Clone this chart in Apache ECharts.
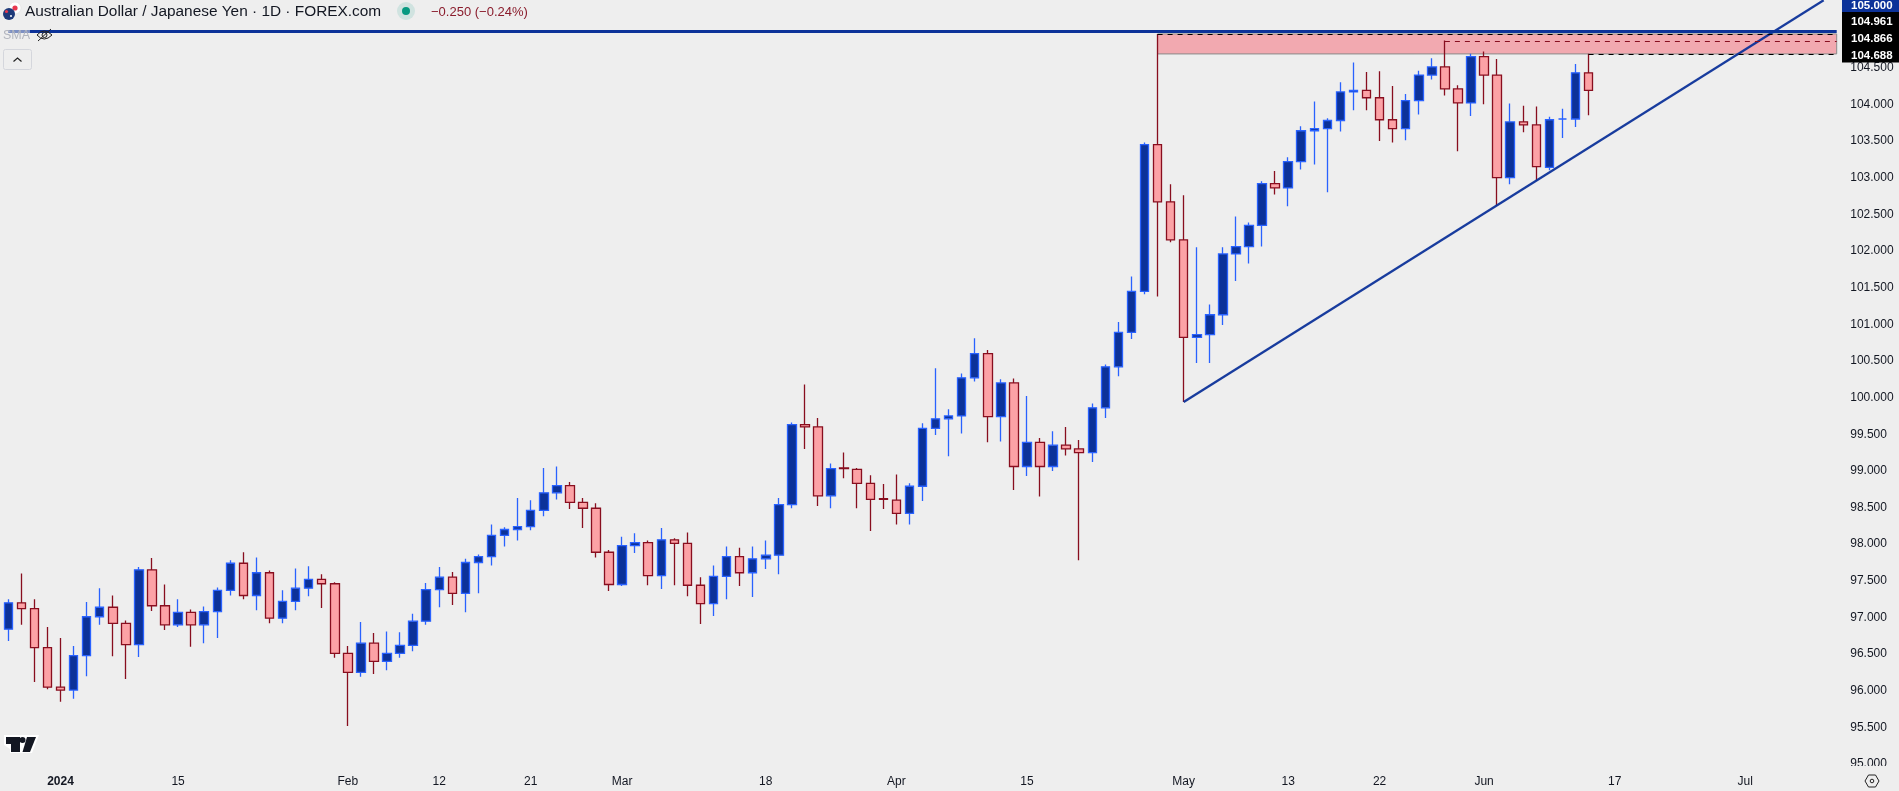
<!DOCTYPE html>
<html><head><meta charset="utf-8">
<style>html,body{margin:0;padding:0;background:#eeeeee;overflow:hidden}#c{width:1899px;height:791px}</style>
<script src="https://cdn.jsdelivr.net/npm/echarts@6/dist/echarts.min.js"></script>
</head><body><div id="c"></div>
<script>
const opens=[96.84,97.20,97.12,96.59,96.05,96.01,96.48,97.01,97.14,96.92,
96.63,97.65,97.16,96.90,97.07,96.90,97.08,97.37,97.74,97.30,
97.61,96.99,97.22,97.40,97.52,97.46,96.51,96.25,96.65,96.40,
96.51,96.62,96.95,97.38,97.55,97.33,97.75,97.83,98.12,98.20,
98.24,98.46,98.70,98.80,98.57,98.49,97.89,97.45,97.98,98.02,
97.57,98.06,98.01,97.44,97.19,97.56,97.83,97.61,97.80,97.85,
98.54,99.63,99.60,98.66,99.04,99.02,98.83,98.62,98.60,98.42,
98.79,99.58,99.71,99.75,100.27,100.60,99.74,100.20,99.06,99.39,
99.06,99.35,99.30,99.25,99.86,100.42,100.89,101.45,103.45,102.67,
102.15,100.82,100.86,101.13,101.96,102.06,102.35,102.92,102.86,103.22,
103.64,103.67,103.78,104.17,104.19,104.09,103.79,103.67,104.05,104.40,
104.51,104.21,104.02,104.65,104.40,103.00,103.76,103.72,103.14,103.80,
103.80,104.43];
const closes=[97.20,97.12,96.59,96.05,96.01,96.48,97.01,97.14,96.92,96.63,
97.65,97.16,96.90,97.07,96.90,97.08,97.37,97.74,97.30,97.61,
96.99,97.22,97.40,97.52,97.46,96.51,96.25,96.65,96.40,96.51,
96.62,96.95,97.38,97.55,97.33,97.75,97.83,98.12,98.20,98.24,
98.46,98.70,98.80,98.57,98.49,97.89,97.45,97.98,98.02,97.57,
98.06,98.01,97.44,97.19,97.56,97.83,97.61,97.80,97.85,98.54,
99.63,99.60,98.66,99.03,99.03,98.83,98.61,98.61,98.42,98.79,
99.58,99.71,99.75,100.27,100.60,99.74,100.20,99.06,99.39,99.06,
99.35,99.30,99.25,99.86,100.42,100.89,101.45,103.45,102.67,102.15,
100.82,100.86,101.13,101.96,102.06,102.35,102.92,102.86,103.22,103.64,
103.67,103.78,104.17,104.19,104.09,103.79,103.67,104.05,104.40,104.51,
104.21,104.02,104.65,104.40,103.00,103.76,103.72,103.15,103.79,103.80,
104.43,104.19];
const highs=[97.25,97.60,97.25,96.87,96.72,96.61,97.21,97.40,97.30,96.96,
97.69,97.81,97.45,97.25,97.11,97.15,97.41,97.78,97.89,97.82,
97.64,97.37,97.67,97.70,97.59,97.48,96.61,96.94,96.79,96.81,
96.80,97.05,97.47,97.69,97.62,97.80,97.86,98.27,98.23,98.63,
98.60,99.04,99.06,98.85,98.63,98.56,97.92,98.10,98.15,98.05,
98.22,98.08,98.16,97.55,97.71,97.97,97.95,97.97,98.05,98.63,
99.66,100.18,99.72,99.10,99.25,99.04,98.94,98.82,98.95,98.83,
99.65,100.40,99.84,100.33,100.81,100.65,100.25,100.26,100.02,99.45,
99.54,99.60,99.42,99.92,100.45,101.03,101.65,103.48,104.96,102.91,
102.76,102.05,101.27,102.05,102.47,102.39,102.95,103.09,103.28,103.70,
104.04,103.81,104.30,104.57,104.44,104.45,104.25,104.14,104.46,104.63,
104.87,104.26,104.69,104.72,104.62,104.01,103.98,103.97,103.83,103.94,
104.55,104.69];
const lows=[96.68,96.90,96.12,96.02,95.85,95.89,96.20,96.90,96.47,96.16,
96.46,97.09,96.83,96.87,96.60,96.65,96.72,97.30,97.25,97.10,
96.92,96.92,97.10,97.29,97.13,96.45,95.52,96.19,96.23,96.28,
96.45,96.54,96.90,97.14,97.17,97.07,97.33,97.71,97.97,98.05,
98.19,98.38,98.61,98.48,98.22,97.82,97.36,97.43,97.88,97.44,
97.39,97.44,97.29,96.91,97.02,97.25,97.43,97.28,97.66,97.59,
98.49,99.30,98.52,98.49,98.90,98.49,98.18,98.48,98.27,98.27,
98.59,99.49,99.20,99.51,100.22,99.39,99.40,98.74,98.93,98.65,
99.00,99.21,97.78,99.12,99.72,100.29,100.80,101.41,101.38,102.12,
99.94,100.47,100.47,100.99,101.59,101.83,102.06,102.77,102.61,103.11,
103.18,102.80,103.63,103.92,103.92,103.50,103.48,103.51,103.86,104.34,
104.12,103.36,103.84,104.00,102.62,102.91,103.62,102.96,103.10,103.54,
103.69,103.85];
// Trading-day index of each labelled date on the time axis
const tickIndex=[4,13,26,33,40,47,58,68,78,90,98,105,113,123,133];
const tickText=['2024','15','Feb','12','21','Mar','18','Apr','15','May','13','22','Jun','17','Jul'];
const categoryCount=141;
const categories=Array.from({length:categoryCount},(_,i)=>{const k=tickIndex.indexOf(i);return k>=0?tickText[k]:'d'+i;});

const resistance=105.0, zoneTop=104.961, zoneMid=104.866, zoneBottom=104.688;
const zoneStart=88, midStart=110, bottomStart=121, lastIdx=140;
const trendFrom=[90,99.94], trendTo=[139,105.42];
const priceTags=['105.000','104.961','104.866','104.688'];
const titleText='Australian Dollar / Japanese Yen · 1D · FOREX.com';
const changeText='−0.250 (−0.24%)';

const BG='#eeeeee',BLUE='#0c3299',BLUEB='#2962ff',PINK='#fca2a6',RED='#880e1f',INK='#131722';
const FONT='"Liberation Sans",Arial,sans-serif';
const chart=echarts.init(document.getElementById('c'));
const G=[];
function txt(x,y,t,fill,size,z,extra){G.push({type:'text',z:z||20,silent:true,style:Object.assign({x,y,text:t,fill,font:size+'px '+FONT,textVerticalAlign:'middle'},extra||{})});}
const poly=(pts,fill,z)=>G.push({type:'polygon',z:z||20,silent:true,shape:{points:pts},style:{fill}});
const pline=(pts,stroke,w,z)=>G.push({type:'polyline',z:z||20,silent:true,shape:{points:pts},style:{fill:'none',stroke,lineWidth:w}});
// bottom pane cover (clips the 95.000 axis label)
G.push({type:'rect',z:3,silent:true,shape:{x:0,y:766,width:1899,height:25},style:{fill:BG}});
// legend fade over line
G.push({type:'rect',z:15,silent:true,shape:{x:0,y:28,width:30,height:16},style:{fill:'rgba(238,238,238,0.5)'}});
// flag
G.push({type:'circle',z:20,silent:true,shape:{cx:15,cy:8,r:6},style:{fill:'#fff',stroke:'#dddddd',lineWidth:.5}});
G.push({type:'circle',z:20,silent:true,shape:{cx:15,cy:8,r:2.6},style:{fill:'#e8384f'}});
G.push({type:'circle',z:21,silent:true,shape:{cx:9,cy:14,r:6},style:{fill:'#1f3a7a'}});
G.push({type:'circle',z:21,silent:true,shape:{cx:6.5,cy:11.5,r:1.6},style:{fill:'#e8384f'}});
G.push({type:'circle',z:21,silent:true,shape:{cx:11,cy:16,r:1},style:{fill:'#fff'}});
txt(25,12,titleText,INK,15.4);
G.push({type:'circle',z:20,silent:true,shape:{cx:406,cy:11,r:9},style:{fill:'rgba(8,153,129,0.13)'}});
G.push({type:'circle',z:21,silent:true,shape:{cx:406,cy:11,r:4},style:{fill:'#089981'}});
txt(431,12,changeText,'#8a1c2c',13);
txt(3,36,'SMA','#b2b5be',12.5);
// eye-off icon
G.push({type:'bezierCurve',z:20,silent:true,shape:{x1:37,y1:35,x2:52,y2:35,cpx1:44,cpy1:27},style:{fill:'none',stroke:'#222',lineWidth:1}});
G.push({type:'bezierCurve',z:20,silent:true,shape:{x1:37,y1:35,x2:52,y2:35,cpx1:44,cpy1:43},style:{fill:'none',stroke:'#222',lineWidth:1}});
G.push({type:'circle',z:20,silent:true,shape:{cx:44.5,cy:35,r:2.5},style:{fill:'none',stroke:'#222',lineWidth:1}});
pline([[38,41],[51,29]],'#222',1);
G.push({type:'rect',z:20,silent:true,shape:{x:3.5,y:49.5,width:28,height:20,r:2},style:{fill:'none',stroke:'#d4d6dc',lineWidth:1}});
pline([[13.5,61.5],[17.5,58],[21.5,61.5]],'#222',1.2);
// TV logo
poly([[4,735],[39,735],[32,753],[10,753],[10,749],[4,745]],'#fff');
poly([[6,737],[20,737],[20,752],[11,752],[11,744],[6,744]],'#131722',21);
poly([[27,737],[36,737],[30,752],[22.5,752]],'#131722',21);
G.push({type:'circle',z:21,silent:true,shape:{cx:22.5,cy:740,r:3},style:{fill:'#131722'}});
// gear
G.push({type:'polygon',z:20,silent:true,shape:{points:[[1865,781],[1868.5,775],[1875.5,775],[1879,781],[1875.5,787],[1868.5,787]]},style:{fill:'none',stroke:'#222',lineWidth:1}});
G.push({type:'circle',z:20,silent:true,shape:{cx:1872,cy:781,r:1.8},style:{fill:'none',stroke:'#222',lineWidth:1}});
// price tags
G.push({type:'rect',z:10,silent:true,shape:{x:1842,y:-4,width:57,height:16},style:{fill:BLUE}});
G.push({type:'rect',z:10,silent:true,shape:{x:1842,y:12,width:57,height:50.5},style:{fill:'#000'}});
const tagY=[5.5,22,38.6,55.6];
priceTags.forEach((t,i)=>{G.push({type:'text',z:11,silent:true,style:{x:1851,y:tagY[i],text:t,fill:'#fff',font:'bold 11.5px '+FONT,textVerticalAlign:'middle'}});});

chart.setOption({
  animation:false,
  backgroundColor:BG,
  grid:{left:1.77,top:-5.6,width:1841.46,height:769.7,containLabel:false,outerBoundsMode:'none'},
  xAxis:{type:'category',data:categories,boundaryGap:true,z:5,
    axisLine:{show:false},axisTick:{show:false},splitLine:{show:false},
    axisLabel:{interval:(i)=>tickIndex.includes(i),formatter:(v)=>v.startsWith('d')?'':(v==='2024'?'{b|2024}':v),hideOverlap:false,
      color:INK,fontFamily:FONT,fontSize:12,margin:12,
      rich:{b:{fontWeight:'bold',fontSize:12,fontFamily:FONT,color:INK}}}},
  yAxis:{type:'value',position:'right',min:95,max:105.5,interval:0.5,z:2,
    axisLine:{show:false},axisTick:{show:false},splitLine:{show:false},
    axisLabel:{color:INK,fontFamily:FONT,fontSize:12,margin:7,padding:[2,0,0,0],showMaxLabel:false,formatter:(v)=>v.toFixed(3)}},
  graphic:{elements:G},
  series:[{type:'candlestick',barWidth:9,clip:true,
    data:opens.map((o,i)=>[o,closes[i],lows[i],highs[i]]),
    itemStyle:{color:BLUE,color0:PINK,borderColor:BLUEB,borderColor0:RED,borderWidth:1.3},
    markArea:{silent:true,
      itemStyle:{color:'rgba(245,99,113,0.5)',borderColor:'#8a8a8a',borderWidth:1},
      data:[[{xAxis:zoneStart,yAxis:zoneTop},{xAxis:lastIdx,yAxis:zoneBottom}]]},
    markLine:{silent:true,symbol:'none',label:{show:false},animation:false,precision:4,
      data:[
        [{coord:[0,resistance],lineStyle:{color:BLUE,width:3,type:'solid'}},{coord:[lastIdx,resistance]}],
        [{coord:trendFrom,lineStyle:{color:BLUE,width:2.3,type:'solid',opacity:.95}},{coord:trendTo}],
        [{coord:[zoneStart,zoneTop],lineStyle:{color:'#000',width:1,type:[5,5]}},{coord:[lastIdx,zoneTop]}],
        [{coord:[midStart,zoneMid],lineStyle:{color:RED,width:1,type:[5,5]}},{coord:[lastIdx,zoneMid]}],
        [{coord:[bottomStart,zoneBottom],lineStyle:{color:'#000',width:1,type:[5,5]}},{coord:[lastIdx,zoneBottom]}]
      ]}
  }]
});
</script></body></html>
